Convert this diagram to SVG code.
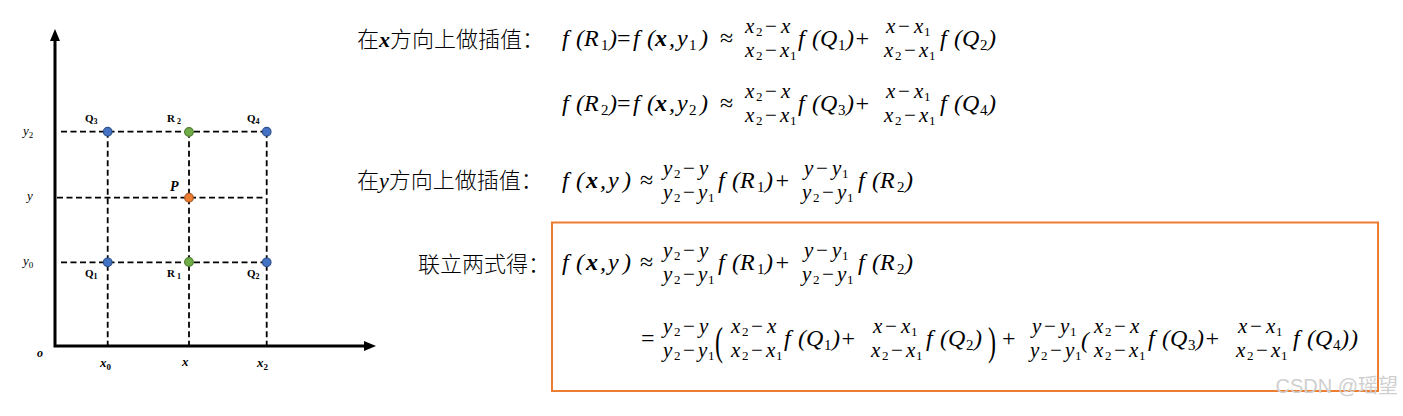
<svg xmlns="http://www.w3.org/2000/svg" width="1403" height="416" viewBox="0 0 1403 416">
<style>
.m{font-family:"Liberation Serif",serif;font-style:italic;font-size:24px;fill:#000}
.s{font-style:normal;font-size:15px}
.up{font-style:normal}
.b{font-weight:bold}
.big{font-size:40px}
.fr{font-family:"Liberation Serif",serif;font-style:italic;font-size:21px;fill:#000}
.fs{font-style:normal;font-size:13px}
.cn{font-family:"Noto Sans CJK SC","Noto Sans",sans-serif;font-size:22px;font-weight:300;fill:#000}
.ax{font-family:"Liberation Serif",serif;font-style:italic;font-size:13px;fill:#000}
.axs{font-style:normal;font-size:9px}
.lb{font-family:"Liberation Serif",serif;font-weight:bold;font-size:11px;fill:#000}
.lbs{font-size:8px}
.pl{font-style:italic;font-size:14px}
.ol{font-size:12px}
.dash{stroke:#000;stroke-width:1.8;stroke-dasharray:6 3.5;fill:none}
.axis{stroke:#000;stroke-width:3;fill:none}
.qb{fill:#4472C4;stroke:#2F528F;stroke-width:1.2}
.rg{fill:#70AD47;stroke:#507E32;stroke-width:1.2}
.po{fill:#ED7D31;stroke:#AE5A21;stroke-width:1.2}
.wm{font-family:"Liberation Sans","Noto Sans CJK SC",sans-serif;font-size:20px;fill:#cfcfcf}
</style>
<defs>
<marker id="ah" viewBox="0 0 12 10" refX="1" refY="5" markerWidth="12" markerHeight="10" markerUnits="userSpaceOnUse" orient="auto-start-reverse"><path d="M0,0 L12,5 L0,10 z" fill="#000"/></marker>
</defs>
<rect width="1403" height="416" fill="#fff"/>

<g id="connectors">
<path class="axis" d="M55,40 V346 H365" marker-start="url(#ah)" marker-end="url(#ah)"/>
<line class="dash" x1="61" y1="131.7" x2="267" y2="131.7"/>
<line class="dash" x1="57" y1="197.7" x2="266" y2="197.7"/>
<line class="dash" x1="61" y1="262.3" x2="267" y2="262.3"/>
<line class="dash" x1="107.7" y1="131.7" x2="107.7" y2="346"/>
<line class="dash" x1="189" y1="131.7" x2="189" y2="346"/>
<line class="dash" x1="266.7" y1="131.7" x2="266.7" y2="346"/>
</g>

<g id="axis-labels">
<text class="ax" x="23" y="135">y<tspan class="axs" dy="3">2</tspan></text>
<text class="ax" x="27" y="200">y</text>
<text class="ax" x="23" y="265">y<tspan class="axs" dy="3">0</tspan></text>
<text class="ax b ol" x="37" y="357">o</text>
<text class="ax b" x="100" y="367">x<tspan class="axs" dy="3">0</tspan></text>
<text class="ax b" x="182" y="366">x</text>
<text class="ax b" x="257" y="367">x<tspan class="axs" dy="3">2</tspan></text>
</g>

<g id="node-Q3"><circle class="qb" cx="107.7" cy="131.7" r="4.3"/><text class="lb" x="85" y="122">Q<tspan class="lbs" dy="2">3</tspan></text></g>
<g id="node-R2"><circle class="rg" cx="189" cy="132" r="4.3"/><text class="lb" x="167" y="122">R<tspan class="lbs" dx="2" dy="2">2</tspan></text></g>
<g id="node-Q4"><circle class="qb" cx="266.7" cy="131.7" r="4.3"/><text class="lb" x="247" y="122">Q<tspan class="lbs" dy="2">4</tspan></text></g>
<g id="node-P"><circle class="po" cx="189" cy="197.7" r="4.3"/><text class="lb pl" x="170" y="191">P</text></g>
<g id="node-Q1"><circle class="qb" cx="107.7" cy="262.3" r="4.3"/><text class="lb" x="85" y="277">Q<tspan class="lbs" dy="2">1</tspan></text></g>
<g id="node-R1"><circle class="rg" cx="189" cy="262" r="4.3"/><text class="lb" x="167" y="277">R<tspan class="lbs" dx="2" dy="2">1</tspan></text></g>
<g id="node-Q2"><circle class="qb" cx="266.7" cy="262.3" r="4.3"/><text class="lb" x="247" y="277">Q<tspan class="lbs" dy="2">2</tspan></text></g>

<g id="labels-cn">
<text class="cn" x="357" y="47">在<tspan font-family="Liberation Serif,serif" font-weight="bold" font-style="italic">x</tspan>方向上做插值：</text>
<text class="cn" x="357" y="188">在<tspan font-family="Liberation Serif,serif" font-style="italic">y</tspan>方向上做插值：</text>
<text class="cn" x="418" y="272">联立两式得：</text>
</g>

<!-- Row 1 -->
<g id="row1">
<text class="m" y="46"><tspan x="562">f</tspan><tspan x="576">(</tspan><tspan x="584">R</tspan><tspan class="s" x="601" y="50">1</tspan><tspan x="609" y="46">)</tspan><tspan class="up" x="617">=</tspan><tspan x="633">f</tspan><tspan x="647">(</tspan><tspan class="b" x="655">x</tspan><tspan x="669">,</tspan><tspan x="677">y</tspan><tspan class="s" x="689" y="50">1</tspan><tspan x="700" y="46">)</tspan><tspan class="up" x="720">≈</tspan></text>
<g transform="translate(745,46)">
<text class="fr" y="-13"><tspan x="0">x</tspan><tspan class="fs" x="11" y="-10">2</tspan><tspan class="up" x="20" y="-13">−</tspan><tspan x="36">x</tspan></text>
<text class="fr" y="11"><tspan x="0">x</tspan><tspan class="fs" x="11" y="14">2</tspan><tspan class="up" x="20" y="11">−</tspan><tspan x="35">x</tspan><tspan class="fs" x="45" y="14">1</tspan></text>
</g>
<text class="m" y="46" transform="translate(798,0)"><tspan x="0">f</tspan><tspan x="14">(</tspan><tspan x="22">Q</tspan><tspan class="s" x="40" y="50">1</tspan><tspan x="48" y="46">)</tspan><tspan x="56">+</tspan></text>
<g transform="translate(884,46)">
<text class="fr" y="-13"><tspan x="2">x</tspan><tspan class="up" x="14">−</tspan><tspan x="30">x</tspan><tspan class="fs" x="40" y="-10">1</tspan></text>
<text class="fr" y="11"><tspan x="0">x</tspan><tspan class="fs" x="11" y="14">2</tspan><tspan class="up" x="20" y="11">−</tspan><tspan x="35">x</tspan><tspan class="fs" x="45" y="14">1</tspan></text>
</g>
<text class="m" y="46" transform="translate(940,0)"><tspan x="0">f</tspan><tspan x="14">(</tspan><tspan x="22">Q</tspan><tspan class="s" x="40" y="50">2</tspan><tspan x="48" y="46">)</tspan></text>
</g>

<!-- Row 2 -->
<g id="row2">
<text class="m" y="111"><tspan x="562">f</tspan><tspan x="576">(</tspan><tspan x="584">R</tspan><tspan class="s" x="601" y="115">2</tspan><tspan x="609" y="111">)</tspan><tspan class="up" x="617">=</tspan><tspan x="633">f</tspan><tspan x="647">(</tspan><tspan class="b" x="655">x</tspan><tspan x="669">,</tspan><tspan x="677">y</tspan><tspan class="s" x="689" y="115">2</tspan><tspan x="700" y="111">)</tspan><tspan class="up" x="720">≈</tspan></text>
<g transform="translate(745,111)">
<text class="fr" y="-13"><tspan x="0">x</tspan><tspan class="fs" x="11" y="-10">2</tspan><tspan class="up" x="20" y="-13">−</tspan><tspan x="36">x</tspan></text>
<text class="fr" y="11"><tspan x="0">x</tspan><tspan class="fs" x="11" y="14">2</tspan><tspan class="up" x="20" y="11">−</tspan><tspan x="35">x</tspan><tspan class="fs" x="45" y="14">1</tspan></text>
</g>
<text class="m" y="111" transform="translate(798,0)"><tspan x="0">f</tspan><tspan x="14">(</tspan><tspan x="22">Q</tspan><tspan class="s" x="40" y="115">3</tspan><tspan x="48" y="111">)</tspan><tspan x="56">+</tspan></text>
<g transform="translate(884,111)">
<text class="fr" y="-13"><tspan x="2">x</tspan><tspan class="up" x="14">−</tspan><tspan x="30">x</tspan><tspan class="fs" x="40" y="-10">1</tspan></text>
<text class="fr" y="11"><tspan x="0">x</tspan><tspan class="fs" x="11" y="14">2</tspan><tspan class="up" x="20" y="11">−</tspan><tspan x="35">x</tspan><tspan class="fs" x="45" y="14">1</tspan></text>
</g>
<text class="m" y="111" transform="translate(940,0)"><tspan x="0">f</tspan><tspan x="14">(</tspan><tspan x="22">Q</tspan><tspan class="s" x="40" y="115">4</tspan><tspan x="48" y="111">)</tspan></text>
</g>

<!-- Row 3 -->
<g id="row3">
<text class="m" y="188"><tspan x="562">f</tspan><tspan x="576">(</tspan><tspan class="b" x="586">x</tspan><tspan x="600">,</tspan><tspan x="608">y</tspan><tspan x="623">)</tspan><tspan class="up" x="640">≈</tspan></text>
<g transform="translate(663,188)">
<text class="fr" y="-13"><tspan x="0">y</tspan><tspan class="fs" x="11" y="-10">2</tspan><tspan class="up" x="20" y="-13">−</tspan><tspan x="36">y</tspan></text>
<text class="fr" y="11"><tspan x="0">y</tspan><tspan class="fs" x="11" y="14">2</tspan><tspan class="up" x="20" y="11">−</tspan><tspan x="35">y</tspan><tspan class="fs" x="45" y="14">1</tspan></text>
</g>
<text class="m" y="188" transform="translate(718,0)"><tspan x="0">f</tspan><tspan x="14">(</tspan><tspan x="22">R</tspan><tspan class="s" x="39" y="192">1</tspan><tspan x="47" y="188">)</tspan><tspan x="56">+</tspan></text>
<g transform="translate(802,188)">
<text class="fr" y="-13"><tspan x="2">y</tspan><tspan class="up" x="14">−</tspan><tspan x="30">y</tspan><tspan class="fs" x="40" y="-10">1</tspan></text>
<text class="fr" y="11"><tspan x="0">y</tspan><tspan class="fs" x="11" y="14">2</tspan><tspan class="up" x="20" y="11">−</tspan><tspan x="35">y</tspan><tspan class="fs" x="45" y="14">1</tspan></text>
</g>
<text class="m" y="188" transform="translate(858,0)"><tspan x="0">f</tspan><tspan x="14">(</tspan><tspan x="22">R</tspan><tspan class="s" x="39" y="192">2</tspan><tspan x="47" y="188">)</tspan></text>
</g>

<!-- Result box -->
<rect id="result-box" x="552" y="222.5" width="826" height="168.5" fill="none" stroke="#ED7D31" stroke-width="2"/>

<!-- Row 4 -->
<g id="row4">
<text class="m" y="270"><tspan x="562">f</tspan><tspan x="576">(</tspan><tspan class="b" x="586">x</tspan><tspan x="600">,</tspan><tspan x="608">y</tspan><tspan x="623">)</tspan><tspan class="up" x="640">≈</tspan></text>
<g transform="translate(663,270)">
<text class="fr" y="-13"><tspan x="0">y</tspan><tspan class="fs" x="11" y="-10">2</tspan><tspan class="up" x="20" y="-13">−</tspan><tspan x="36">y</tspan></text>
<text class="fr" y="11"><tspan x="0">y</tspan><tspan class="fs" x="11" y="14">2</tspan><tspan class="up" x="20" y="11">−</tspan><tspan x="35">y</tspan><tspan class="fs" x="45" y="14">1</tspan></text>
</g>
<text class="m" y="270" transform="translate(718,0)"><tspan x="0">f</tspan><tspan x="14">(</tspan><tspan x="22">R</tspan><tspan class="s" x="39" y="274">1</tspan><tspan x="47" y="270">)</tspan><tspan x="56">+</tspan></text>
<g transform="translate(802,270)">
<text class="fr" y="-13"><tspan x="2">y</tspan><tspan class="up" x="14">−</tspan><tspan x="30">y</tspan><tspan class="fs" x="40" y="-10">1</tspan></text>
<text class="fr" y="11"><tspan x="0">y</tspan><tspan class="fs" x="11" y="14">2</tspan><tspan class="up" x="20" y="11">−</tspan><tspan x="35">y</tspan><tspan class="fs" x="45" y="14">1</tspan></text>
</g>
<text class="m" y="270" transform="translate(858,0)"><tspan x="0">f</tspan><tspan x="14">(</tspan><tspan x="22">R</tspan><tspan class="s" x="39" y="274">2</tspan><tspan x="47" y="270">)</tspan></text>
</g>

<!-- Row 5 -->
<g id="row5">
<text class="m up" x="641" y="346">=</text>
<g transform="translate(663,346)">
<text class="fr" y="-13"><tspan x="0">y</tspan><tspan class="fs" x="11" y="-10">2</tspan><tspan class="up" x="20" y="-13">−</tspan><tspan x="36">y</tspan></text>
<text class="fr" y="11"><tspan x="0">y</tspan><tspan class="fs" x="11" y="14">2</tspan><tspan class="up" x="20" y="11">−</tspan><tspan x="35">y</tspan><tspan class="fs" x="45" y="14">1</tspan></text>
</g>
<text class="m up big" transform="translate(715,355) scale(0.6,1)">(</text>
<g transform="translate(731,346)">
<text class="fr" y="-13"><tspan x="0">x</tspan><tspan class="fs" x="11" y="-10">2</tspan><tspan class="up" x="20" y="-13">−</tspan><tspan x="36">x</tspan></text>
<text class="fr" y="11"><tspan x="0">x</tspan><tspan class="fs" x="11" y="14">2</tspan><tspan class="up" x="20" y="11">−</tspan><tspan x="35">x</tspan><tspan class="fs" x="45" y="14">1</tspan></text>
</g>
<text class="m" y="346" transform="translate(784,0)"><tspan x="0">f</tspan><tspan x="14">(</tspan><tspan x="22">Q</tspan><tspan class="s" x="40" y="350">1</tspan><tspan x="48" y="346">)</tspan><tspan x="56">+</tspan></text>
<g transform="translate(871,346)">
<text class="fr" y="-13"><tspan x="2">x</tspan><tspan class="up" x="14">−</tspan><tspan x="30">x</tspan><tspan class="fs" x="40" y="-10">1</tspan></text>
<text class="fr" y="11"><tspan x="0">x</tspan><tspan class="fs" x="11" y="14">2</tspan><tspan class="up" x="20" y="11">−</tspan><tspan x="35">x</tspan><tspan class="fs" x="45" y="14">1</tspan></text>
</g>
<text class="m" y="346" transform="translate(926,0)"><tspan x="0">f</tspan><tspan x="14">(</tspan><tspan x="22">Q</tspan><tspan class="s" x="40" y="350">2</tspan><tspan x="48" y="346">)</tspan></text>
<text class="m up big" transform="translate(988,355) scale(0.6,1)">)</text>
<text class="m up" x="1002" y="346">+</text>
<g transform="translate(1030,346)">
<text class="fr" y="-13"><tspan x="2">y</tspan><tspan class="up" x="14">−</tspan><tspan x="30">y</tspan><tspan class="fs" x="40" y="-10">1</tspan></text>
<text class="fr" y="11"><tspan x="0">y</tspan><tspan class="fs" x="11" y="14">2</tspan><tspan class="up" x="20" y="11">−</tspan><tspan x="35">y</tspan><tspan class="fs" x="45" y="14">1</tspan></text>
</g>
<text class="m" x="1081" y="348">(</text>
<g transform="translate(1094,346)">
<text class="fr" y="-13"><tspan x="0">x</tspan><tspan class="fs" x="11" y="-10">2</tspan><tspan class="up" x="20" y="-13">−</tspan><tspan x="36">x</tspan></text>
<text class="fr" y="11"><tspan x="0">x</tspan><tspan class="fs" x="11" y="14">2</tspan><tspan class="up" x="20" y="11">−</tspan><tspan x="35">x</tspan><tspan class="fs" x="45" y="14">1</tspan></text>
</g>
<text class="m" y="346" transform="translate(1148,0)"><tspan x="0">f</tspan><tspan x="14">(</tspan><tspan x="22">Q</tspan><tspan class="s" x="40" y="350">3</tspan><tspan x="48" y="346">)</tspan><tspan x="56">+</tspan></text>
<g transform="translate(1236,346)">
<text class="fr" y="-13"><tspan x="2">x</tspan><tspan class="up" x="14">−</tspan><tspan x="30">x</tspan><tspan class="fs" x="40" y="-10">1</tspan></text>
<text class="fr" y="11"><tspan x="0">x</tspan><tspan class="fs" x="11" y="14">2</tspan><tspan class="up" x="20" y="11">−</tspan><tspan x="35">x</tspan><tspan class="fs" x="45" y="14">1</tspan></text>
</g>
<text class="m" y="346" transform="translate(1293,0)"><tspan x="0">f</tspan><tspan x="14">(</tspan><tspan x="22">Q</tspan><tspan class="s" x="40" y="350">4</tspan><tspan x="48" y="346">)</tspan><tspan x="57">)</tspan></text>
</g>

<text class="wm" x="1398" y="393" text-anchor="end">CSDN @瑶望</text>
</svg>
